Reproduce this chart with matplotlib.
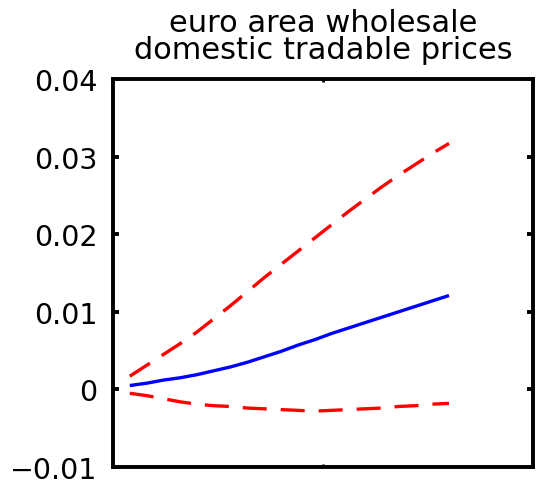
import matplotlib
matplotlib.use("Agg")
import matplotlib.pyplot as plt

# Horizon (quarters) and the response with its error bands
horizon = list(range(1, 21))
response = [0.0005, 0.0008, 0.0012, 0.0015, 0.0019, 0.0024, 0.0029, 0.0035, 0.0042, 0.0049,
            0.0057, 0.0064, 0.0072, 0.0079, 0.0086, 0.0093, 0.0100, 0.0107, 0.0114, 0.0121]
upper_band = [0.0017, 0.0031, 0.0045, 0.0059, 0.0074, 0.0091, 0.0108, 0.0126, 0.0144, 0.0161,
              0.0178, 0.0195, 0.0212, 0.0229, 0.0245, 0.0261, 0.0276, 0.0290, 0.0304, 0.0317]
lower_band = [-0.0005, -0.0008, -0.0012, -0.0016, -0.0019, -0.0021, -0.0022, -0.0024, -0.0025, -0.0026,
              -0.0027, -0.0028, -0.0027, -0.0026, -0.0025, -0.0024, -0.0022, -0.0021, -0.0019, -0.0018]
yticks = [-0.01, 0, 0.01, 0.02, 0.03, 0.04]
ytick_labels = ["\u22120.01", "0", "0.01", "0.02", "0.03", "0.04"]

plt.rcParams["font.family"] = ["DejaVu Sans"]

fig = plt.figure(figsize=(5.37, 4.81), dpi=100)
ax = fig.add_axes([0.2104, 0.027, 0.7822, 0.8067])

lw = 2.4
ax.plot(horizon, response, color="#0000ff", linewidth=lw, solid_capstyle="butt")
for band in (upper_band, lower_band):
    line, = ax.plot(horizon, band, color="#ff0000", linewidth=lw)
    line.set_dashes((7.2, 4.2))

ax.set_xlim(0, 25)
ax.set_ylim(-0.01, 0.04)
ax.set_xticks([0, 12.5, 25])
ax.set_xticklabels([])
ax.set_yticks(yticks)
ax.set_yticklabels(ytick_labels)

for sp in ax.spines.values():
    sp.set_linewidth(2.8)
ax.tick_params(axis="y", direction="in", length=4, width=2.8, pad=11,
               labelsize=20.5, right=True, colors="black")
ax.tick_params(axis="x", direction="in", length=2.5, width=2.0, top=True)

ax.set_title("euro area wholesale\ndomestic tradable prices", fontsize=22,
             linespacing=0.9, pad=15)

fig.savefig("out.png", dpi=100)
